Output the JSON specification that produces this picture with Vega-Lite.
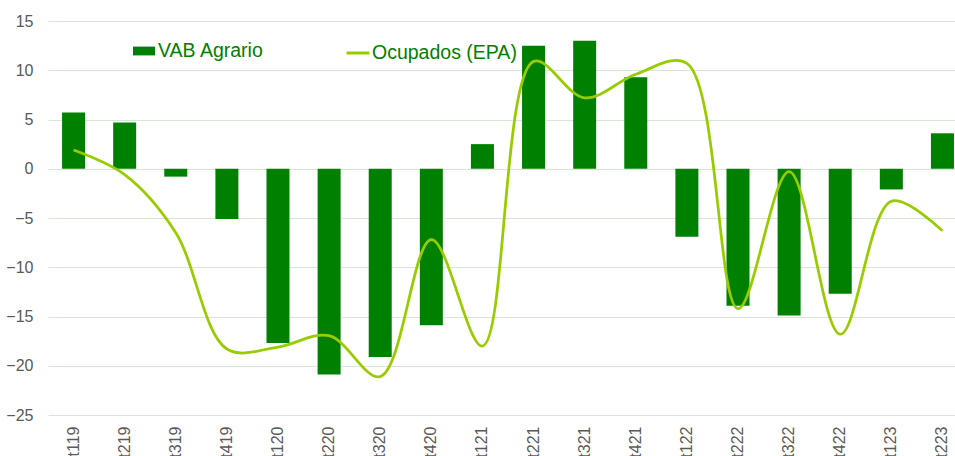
{
  "$schema": "https://vega.github.io/schema/vega-lite/v6.json",
  "width": 920,
  "height": 394,
  "autosize": {"type": "none"},
  "padding": {"left": 48, "top": 21, "right": 0, "bottom": 41},
  "background": "white",
  "config": {
    "view": {"stroke": null},
    "font": "Liberation Sans",
    "axis": {"labelFont": "Liberation Sans", "labelColor": "#595959", "labelFontSize": 16, "domain": false, "ticks": false, "title": null}
  },
  "data": {
    "values": [
      {"q": "t119", "vab": 5.7, "epa": 1.9},
      {"q": "t219", "vab": 4.7, "epa": -0.6},
      {"q": "t319", "vab": -0.8, "epa": -6.5},
      {"q": "t419", "vab": -5.1, "epa": -18.3},
      {"q": "t120", "vab": -17.7, "epa": -18.1},
      {"q": "t220", "vab": -20.9, "epa": -16.95},
      {"q": "t320", "vab": -19.1, "epa": -21.1},
      {"q": "t420", "vab": -15.9, "epa": -7.2},
      {"q": "t121", "vab": 2.5, "epa": -18.0},
      {"q": "t221", "vab": 12.5, "epa": 10.9},
      {"q": "t321", "vab": 13.0, "epa": 7.2},
      {"q": "t421", "vab": 9.3, "epa": 9.6},
      {"q": "t122", "vab": -6.9, "epa": 10.7},
      {"q": "t222", "vab": -13.9, "epa": -14.2},
      {"q": "t322", "vab": -14.9, "epa": -0.3},
      {"q": "t422", "vab": -12.7, "epa": -16.8},
      {"q": "t123", "vab": -2.1, "epa": -3.3},
      {"q": "t223", "vab": 3.6, "epa": -6.3}
    ]
  },
  "encoding": {
    "x": {
      "field": "q", "type": "nominal", "sort": null,
      "scale": {"paddingInner": 0.55, "paddingOuter": 0.275},
      "axis": {"labelAngle": -90, "labelPadding": 11, "grid": false}
    }
  },
  "layer": [
    {
      "mark": {"type": "bar"},
      "encoding": {
        "y": {
          "field": "vab", "type": "quantitative",
          "scale": {"domain": [-25, 15], "nice": false},
          "axis": {"values": [-25, -20, -15, -10, -5, 0, 5, 10, 15], "grid": true, "gridColor": "#d9e6d5", "gridWidth": 1, "labelPadding": 15}
        },
        "color": {
          "datum": "VAB Agrario", "type": "nominal",
          "scale": {"range": ["#008000"]},
          "legend": {
            "title": null, "orient": "none", "legendX": 85, "legendY": 19, "padding": 0,
            "symbolType": "M-1,-0.4H1V0.4H-1Z", "symbolSize": 484, "symbolStrokeWidth": 0,
            "labelFont": "Liberation Sans", "labelFontSize": 19.5, "labelColor": "#008000", "labelOffset": 3
          }
        }
      }
    },
    {
      "mark": {"type": "line", "interpolate": "catmull-rom", "strokeWidth": 2.75},
      "encoding": {
        "y": {"field": "epa", "type": "quantitative"},
        "stroke": {
          "datum": "Ocupados (EPA)", "type": "nominal",
          "scale": {"range": ["#99cc00"]},
          "legend": {
            "title": null, "orient": "none", "legendX": 297, "legendY": 19, "padding": 0,
            "symbolType": "stroke", "symbolSize": 529, "symbolStrokeWidth": 3,
            "labelFont": "Liberation Sans", "labelFontSize": 19.5, "labelColor": "#008000", "labelOffset": 1
          }
        }
      }
    }
  ]
}
